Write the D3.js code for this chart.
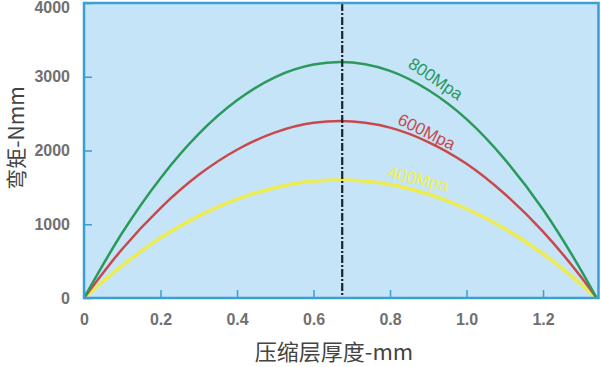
<!DOCTYPE html>
<html><head><meta charset="utf-8">
<script src="https://cdn.jsdelivr.net/npm/d3@7"></script>
<style>body{margin:0;background:#fff}svg{display:block}</style>
</head><body>
<svg id="c" width="601" height="367"></svg>
<script>
const xs = [0, 0.1, 0.2, 0.3, 0.4, 0.5, 0.6, 0.67, 0.8, 0.9, 1.0, 1.1, 1.2, 1.3, 1.34];
const m800 = [0, 885, 1625, 2225, 2680, 2995, 3165, 3200, 3080, 2820, 2425, 1880, 1200, 370, 0];
const m600 = [0, 665, 1220, 1670, 2010, 2245, 2375, 2400, 2310, 2115, 1820, 1410, 900, 280, 0];
const m400 = [0, 440, 815, 1110, 1340, 1495, 1585, 1600, 1540, 1410, 1210, 940, 600, 185, 0];
const seriesNames = ["800Mpa", "600Mpa", "400Mpa"];
const xTicks = [0, 0.2, 0.4, 0.6, 0.8, 1.0, 1.2];
const xTickLabels = ["0", "0.2", "0.4", "0.6", "0.8", "1.0", "1.2"];
const yTicks = [0, 1000, 2000, 3000, 4000];
const peakX = 0.675;

const svg = d3.select("#c");
const L = 84, R = 598.5, T = 3, B = 298;
const x = d3.scaleLinear().domain([0, 1.345]).range([L, R]);
const y = d3.scaleLinear().domain([0, 4000]).range([B, T]);
const blue = "#3a9fd2";
const font = "Liberation Sans, Arial, sans-serif";

svg.append("rect").attr("x", L).attr("y", T).attr("width", R - L).attr("height", B - T)
  .attr("fill", "#c6e4f7");

const gx = svg.append("g").attr("transform", `translate(0,${B})`)
  .call(d3.axisBottom(x).tickValues(xTicks).tickSize(-8).tickPadding(16)
    .tickFormat((d, i) => xTickLabels[i]));
gx.select(".domain").remove();
gx.selectAll("line").attr("stroke", blue).attr("stroke-width", 1.5);
gx.selectAll("text").attr("font-family", font)
  .attr("font-size", 16).attr("fill", "#707070").attr("font-weight", "bold");

const gy = svg.append("g").attr("transform", `translate(${L},0)`)
  .call(d3.axisLeft(y).tickValues(yTicks).tickSize(-8).tickPadding(14).tickFormat(d3.format("d")));
gy.select(".domain").remove();
gy.selectAll("line").attr("stroke", blue).attr("stroke-width", 1.5);
gy.selectAll("text").attr("font-family", font)
  .attr("font-size", 16).attr("fill", "#707070").attr("font-weight", "bold");
// keep the top label just inside the picture
gy.selectAll(".tick").filter(d => d === 4000).select("text").attr("dy", "0.6em");

const colors = ["#2a9a5c", "#c9484c", "#ecec50"];
const widths = [2.5, 2.5, 3.5];
const line = d3.line().x((d, i) => x(xs[i])).y(d => y(d)).curve(d3.curveMonotoneX);
[m400, m600, m800].forEach((s, k) => {
  const idx = 2 - k;
  svg.append("path").attr("d", line(s)).attr("fill", "none")
    .attr("stroke", colors[idx]).attr("stroke-width", widths[idx]);
});

svg.append("line").attr("x1", x(peakX)).attr("x2", x(peakX)).attr("y1", T).attr("y2", B)
  .attr("stroke", "#222").attr("stroke-width", 2.2).attr("stroke-dasharray", "8,2,2,2");

svg.append("rect").attr("x", L).attr("y", T).attr("width", R - L).attr("height", B - T)
  .attr("fill", "none").attr("stroke", blue).attr("stroke-width", 2.5);

const lbl = [
  {name: seriesNames[0], cx: 435, cy: 80, rot: 34, c: colors[0]},
  {name: seriesNames[1], cx: 426, cy: 133, rot: 26, c: colors[1]},
  {name: seriesNames[2], cx: 418, cy: 180, rot: 13, c: "#f0f04a"}
];
lbl.forEach(l => {
  svg.append("text").attr("transform", `translate(${l.cx},${l.cy}) rotate(${l.rot})`)
    .attr("text-anchor", "middle").attr("dominant-baseline", "middle")
    .attr("font-family", font).attr("font-size", 17)
    .attr("fill", l.c).text(l.name);
});

svg.append("text").attr("x", 334).attr("y", 360).attr("text-anchor", "middle")
  .attr("font-family", "Noto Sans CJK SC, sans-serif").attr("font-size", 22).attr("fill", "#444")
  .text("压缩层厚度-mm");
svg.append("text").attr("transform", "translate(24,138) rotate(-90)").attr("text-anchor", "middle")
  .attr("font-family", "Noto Sans CJK SC, sans-serif").attr("font-size", 21).attr("fill", "#444")
  .text("弯矩-Nmm");
</script>
</body></html>
